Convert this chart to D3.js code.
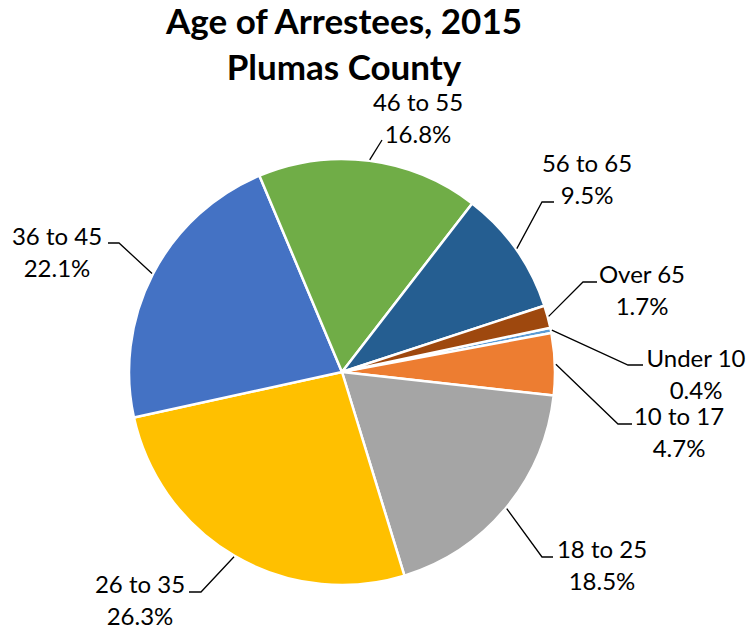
<!DOCTYPE html>
<html>
<head>
<meta charset="utf-8">
<script src="https://cdn.jsdelivr.net/npm/d3@7"></script>
<style>
  html, body { margin: 0; padding: 0; background: #fff; }
  svg { display: block; }
</style>
</head>
<body>
<div id="chart"></div>
<script>
// ---- data ----
const categories = ["Under 10", "10 to 17", "18 to 25", "26 to 35", "36 to 45", "46 to 55", "56 to 65", "Over 65"];
const percentages = [0.4, 4.7, 18.5, 26.3, 22.1, 16.8, 9.5, 1.7];
const colors = ["#5B9BD5", "#ED7D31", "#A5A5A5", "#FFC000", "#4472C4", "#70AD47", "#255E91", "#9E480E"];
const titleLines = ["Age of Arrestees, 2015", "Plumas County"];

// ---- layout ----
const W = 748, H = 633;
const cx = 342, cy = 372, R = 213;
const firstSliceAngle = 78; // degrees, clockwise from 12 o'clock

// label layout: elbow point, end of horizontal tick, text centre x, first baseline y
const labelLayout = [
  { elbow: [628, 365], tick: [643, 365], tx: 696, ty: 367 },
  { elbow: [618, 424], tick: [632, 424], tx: 679, ty: 425 },
  { elbow: [542, 557], tick: [553, 557], tx: 602, ty: 558 },
  { elbow: [201, 592], tick: [189, 592], tx: 140, ty: 593 },
  { elbow: [119, 243], tick: [108, 243], tx: 57,  ty: 245 },
  { elbow: [382, 140], tick: [382, 140], tx: 418, ty: 111 },
  { elbow: [542, 202], tick: [554, 202], tx: 587, ty: 172 },
  { elbow: [583, 282], tick: [597, 282], tx: 642, ty: 283 }
];

const svg = d3.select("#chart").append("svg")
  .attr("width", W).attr("height", H);

// title
svg.append("g").selectAll("text").data(titleLines).join("text")
  .attr("x", 344)
  .attr("y", (d, i) => 34 + i * 46)
  .attr("text-anchor", "middle")
  .attr("font-family", "Lato, 'Open Sans', sans-serif")
  .attr("font-weight", "bold")
  .attr("font-size", 35)
  .attr("fill", "#000")
  .text(d => d);

const data = categories.map((c, i) => ({ cat: c, value: percentages[i], color: colors[i], lay: labelLayout[i] }));

const start = firstSliceAngle * Math.PI / 180;
const pie = d3.pie().value(d => d.value).sort(null)
  .startAngle(start).endAngle(start + 2 * Math.PI);
const arcs = pie(data);
const arc = d3.arc().innerRadius(0).outerRadius(R);

const g = svg.append("g").attr("transform", `translate(${cx},${cy})`);
g.selectAll("path").data(arcs).join("path")
  .attr("d", arc)
  .attr("fill", d => d.data.color)
  .attr("stroke", "#fff")
  .attr("stroke-width", 2.5)
  .attr("stroke-linejoin", "round");

// leader lines
const leaders = svg.append("g");
arcs.forEach(a => {
  const mid = (a.startAngle + a.endAngle) / 2;
  const sx = cx + (R + 1) * Math.sin(mid);
  const sy = cy - (R + 1) * Math.cos(mid);
  const L = a.data.lay;
  leaders.append("polyline")
    .attr("points", [[sx, sy], L.elbow, L.tick].map(p => p.join(",")).join(" "))
    .attr("fill", "none")
    .attr("stroke", "#000")
    .attr("stroke-width", 1.3);
});

// labels
const labels = svg.append("g")
  .attr("font-family", "Lato, 'Open Sans', sans-serif")
  .attr("font-size", 24)
  .attr("fill", "#000")
  .attr("text-anchor", "middle");
arcs.forEach(a => {
  const L = a.data.lay;
  const t = labels.append("text").attr("x", L.tx).attr("y", L.ty);
  t.append("tspan").attr("x", L.tx).attr("y", L.ty).text(a.data.cat);
  t.append("tspan").attr("x", L.tx).attr("y", L.ty + 31.5).text(a.data.value.toFixed(1) + "%");
});
</script>
</body>
</html>
